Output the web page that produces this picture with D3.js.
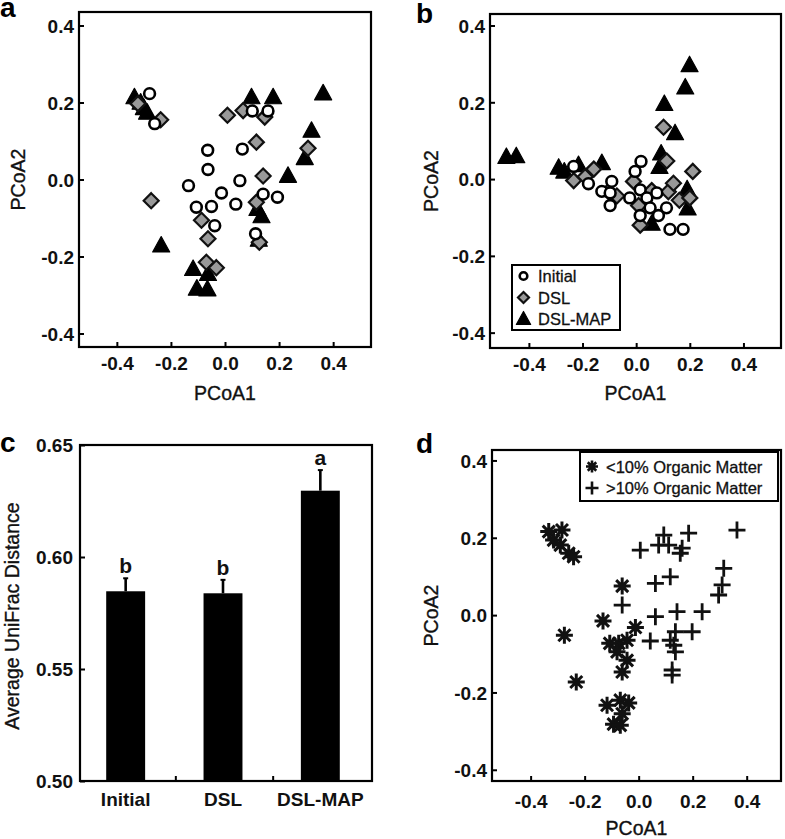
<!DOCTYPE html>
<html><head><meta charset="utf-8">
<script src="https://cdn.jsdelivr.net/npm/d3@7"></script>
<style>body{margin:0;background:#fff;} svg{display:block;font-family:"Liberation Sans",Arial,Helvetica,sans-serif;}</style>
</head><body>
<script>
// ---------- DATA ----------
const pcoaTicks = [-0.4, -0.2, 0.0, 0.2, 0.4];
const pcoaTickLabels = ["-0.4", "-0.2", "0.0", "0.2", "0.4"];

// Panel a
const aInitial = [[-0.279,0.223],[-0.26,0.145],[-0.064,0.076],[-0.063,0.026],[-0.135,-0.016],[-0.013,-0.035],[-0.106,-0.072],[-0.05,-0.07],[-0.038,-0.12],[0.04,-0.064],[0.055,-0.003],[0.064,0.079],[0.101,0.178],[0.159,0.178],[0.141,-0.038],[0.194,-0.046],[0.113,-0.141]];
const aDSL = [[-0.322,0.197],[-0.238,0.155],[0.009,0.167],[0.067,0.179],[0.147,0.162],[0.116,0.097],[0.307,0.081],[0.141,0.009],[-0.273,-0.055],[-0.087,-0.106],[-0.063,-0.154],[-0.069,-0.215],[-0.032,-0.229],[0.116,-0.059],[0.127,-0.163]];
const aDSLMAP = [[-0.335,0.212],[-0.312,0.198],[-0.3,0.184],[-0.288,0.172],[0.098,0.212],[0.178,0.212],[0.363,0.222],[0.32,0.125],[0.295,0.054],[0.233,0.008],[0.12,-0.078],[0.135,-0.097],[0.125,-0.158],[-0.236,-0.173],[-0.118,-0.234],[-0.063,-0.247],[-0.104,-0.285],[-0.065,-0.287]];

// Panel b
const bInitial = [[-0.233,0.033],[-0.178,-0.012],[-0.091,-0.006],[-0.128,-0.032],[-0.097,-0.036],[-0.097,-0.069],[0.018,0.046],[-0.004,0.02],[-0.024,-0.049],[0.015,-0.028],[0.04,-0.049],[0.077,-0.036],[0.052,-0.075],[0.083,-0.095],[0.113,-0.075],[0.015,-0.095],[0.126,-0.131],[0.175,-0.131]];
const bDSL = [[-0.233,-0.004],[-0.19,0.006],[-0.158,0.026],[-0.103,-0.032],[-0.072,-0.044],[-0.01,-0.006],[0.009,-0.069],[0.015,-0.12],[0.058,-0.03],[0.102,0.135],[0.114,0.047],[0.12,-0.033],[0.139,-0.011],[0.161,-0.055],[0.2,-0.049],[0.211,0.02]];
const bDSLMAP = [[-0.484,0.056],[-0.447,0.058],[-0.289,0.028],[-0.268,0.018],[-0.215,0.035],[-0.128,0.04],[0.199,0.295],[0.183,0.237],[0.105,0.194],[0.145,0.118],[0.093,0.065],[0.087,0.03],[0.19,-0.028],[0.192,-0.078],[0.058,-0.118]];
const legendB = ["Initial", "DSL", "DSL-MAP"];

// Panel c
const cCategories = ["Initial", "DSL", "DSL-MAP"];
const cMeans = [0.5847, 0.5838, 0.6296];
const cSE = [0.0058, 0.006, 0.0092];
const cLetters = ["b", "b", "a"];
const cTicks = [0.50, 0.55, 0.60, 0.65];
const cTickLabels = ["0.50", "0.55", "0.60", "0.65"];

// Panel d
const dLow = [[-0.333,0.216],[-0.284,0.22],[-0.315,0.194],[-0.29,0.181],[-0.259,0.16],[-0.241,0.151],[-0.061,0.075],[-0.132,-0.015],[-0.275,-0.052],[-0.012,-0.032],[-0.107,-0.073],[-0.074,-0.073],[-0.043,-0.065],[-0.08,-0.095],[-0.043,-0.117],[-0.061,-0.147],[-0.231,-0.173],[-0.117,-0.233],[-0.068,-0.22],[-0.037,-0.227],[-0.061,-0.255],[-0.093,-0.282],[-0.068,-0.285]];
const dHigh = [[0.006,0.168],[0.093,0.207],[0.185,0.212],[0.364,0.22],[0.074,0.181],[0.111,0.181],[0.161,0.173],[0.154,0.16],[0.315,0.121],[0.309,0.078],[0.296,0.052],[0.117,0.099],[0.062,0.082],[0.142,0.009],[0.235,0.009],[0.062,-0.004],[0.198,-0.043],[0.136,-0.043],[0.043,-0.067],[0.117,-0.065],[0.13,-0.078],[0.136,-0.095],[0.124,-0.142],[0.124,-0.155],[-0.061,0.026]];
const legendD = ["<10% Organic Matter", ">10% Organic Matter"];

// ---------- DRAW ----------
const svg = d3.select("body").append("svg").attr("width", 785).attr("height", 839);
svg.append("rect").attr("width", 785).attr("height", 839).attr("fill", "#fff");

const TICKFONT = 19;

function trianglePath(s){ return `M0,${-s*0.62}L${s*0.55},${s*0.38}L${-s*0.55},${s*0.38}Z`; }
function diamondPath(s){ return `M0,${-s}L${s},0L0,${s}L${-s},0Z`; }
function asteriskPath(r){ const k=r*0.7071; return `M${-r},0L${r},0M0,${-r}L0,${r}M${-k},${-k}L${k},${k}M${-k},${k}L${k},${-k}`; }
function plusPath(r){ return `M${-r},0L${r},0M0,${-r}L0,${r}`; }

function drawCircle(g, x, y, r){ g.append("circle").attr("cx",x).attr("cy",y).attr("r",r).attr("fill","#fff").attr("stroke","#000").attr("stroke-width",2.6); }
function drawDiamond(g, x, y, s){ g.append("path").attr("transform",`translate(${x},${y})`).attr("d",diamondPath(s)).attr("fill","#999").attr("stroke","#111").attr("stroke-width",2.2); }
function drawTriangle(g, x, y, s){ g.append("path").attr("transform",`translate(${x},${y})`).attr("d",trianglePath(s)).attr("fill","#000").attr("stroke","#000").attr("stroke-width",1.2).attr("stroke-linejoin","round"); }
function drawAsterisk(g, x, y, r, w){ g.append("path").attr("transform",`translate(${x},${y})`).attr("d",asteriskPath(r)).attr("fill","none").attr("stroke","#111").attr("stroke-width",w||3); }
function drawPlus(g, x, y, r, w){ g.append("path").attr("transform",`translate(${x},${y})`).attr("d",plusPath(r)).attr("fill","none").attr("stroke","#111").attr("stroke-width",w||2.8); }

function styleAxis(g){
  g.select(".domain").remove();
  g.selectAll(".tick line").attr("stroke","#000").attr("stroke-width",2);
  g.selectAll(".tick text").attr("font-size",TICKFONT).attr("font-weight","bold").attr("fill","#111");
}
function titleText(sel){ return sel.attr("font-size",19.5).attr("fill","#111").attr("stroke","#111").attr("stroke-width",0.35); }

function scatterFrame(o){
  const x = d3.scaleLinear().domain(o.xDomain).range([o.left,o.right]);
  const y = d3.scaleLinear().domain(o.yDomain).range([o.bottom,o.top]);
  const gx = svg.append("g").attr("transform",`translate(0,${o.bottom})`)
    .call(d3.axisBottom(x).tickValues(pcoaTicks).tickFormat((d,i)=>pcoaTickLabels[i]).tickSize(-5).tickPadding(o.xPad));
  styleAxis(gx);
  const gy = svg.append("g").attr("transform",`translate(${o.left},0)`)
    .call(d3.axisLeft(y).tickValues(pcoaTicks).tickFormat((d,i)=>pcoaTickLabels[i]).tickSize(-5).tickPadding(5));
  styleAxis(gy);
  gy.selectAll(".tick text").attr("dy","0.36em");
  titleText(svg.append("text").attr("x",(o.left+o.right)/2).attr("y",o.xTitleY).attr("text-anchor","middle")).text("PCoA1");
  titleText(svg.append("text").attr("transform",`translate(${o.yTitleX},${(o.top+o.bottom)/2}) rotate(-90)`)
    .attr("text-anchor","middle").attr("dominant-baseline","central")).text("PCoA2");
  svg.append("text").attr("x",o.letterX).attr("y",o.letterY).attr("font-size",28).attr("font-weight","bold").attr("fill","#000").text(o.letter);
  const marks = svg.append("g");
  return {x, y, marks, o};
}
function closeFrame(f){
  const o=f.o;
  svg.append("rect").attr("x",o.left).attr("y",o.top).attr("width",o.right-o.left).attr("height",o.bottom-o.top)
    .attr("fill","none").attr("stroke","#000").attr("stroke-width",2.2);
}

// Panel a
const fa = scatterFrame({left:79,right:371,top:12,bottom:347,xDomain:[-0.54,0.54],yDomain:[-0.435,0.435],xPad:10,xTitleY:400,yTitleX:18,letter:"a",letterX:0,letterY:17});
aDSLMAP.forEach(d=>drawTriangle(fa.marks, fa.x(d[0]), fa.y(d[1]), 15.5));
aDSL.forEach(d=>drawDiamond(fa.marks, fa.x(d[0]), fa.y(d[1]), 7.5));
aInitial.forEach(d=>drawCircle(fa.marks, fa.x(d[0]), fa.y(d[1]), 5.4));
closeFrame(fa);

// Panel b
const fb = scatterFrame({left:490,right:781,top:14,bottom:348,xDomain:[-0.545,0.54],yDomain:[-0.44,0.43],xPad:10,xTitleY:400,yTitleX:431,letter:"b",letterX:416,letterY:23});
bDSLMAP.forEach(d=>drawTriangle(fb.marks, fb.x(d[0]), fb.y(d[1]), 15.5));
bDSL.forEach(d=>drawDiamond(fb.marks, fb.x(d[0]), fb.y(d[1]), 7.5));
bInitial.forEach(d=>drawCircle(fb.marks, fb.x(d[0]), fb.y(d[1]), 5.4));
closeFrame(fb);
// legend b
{
  const lg = svg.append("g");
  lg.append("rect").attr("x",512).attr("y",265).attr("width",108).attr("height",65).attr("fill","#fff").attr("stroke","#000").attr("stroke-width",2);
  const ys = [276, 297.5, 318.5];
  legendB.forEach((t,i)=>{
    if(i===0) drawCircle(lg, 523.5, ys[i], 3.8);
    if(i===1) drawDiamond(lg, 523.5, ys[i], 5.5);
    if(i===2) drawTriangle(lg, 523.5, ys[i]+1, 13);
    lg.append("text").attr("x",538).attr("y",ys[i]).attr("dominant-baseline","central").attr("font-size",16.5).attr("fill","#111").attr("stroke","#111").attr("stroke-width",0.3).text(t);
  });
}

// Panel c
{
  const left=80,right=372,top=445,bottom=781;
  const x = d3.scaleBand().domain(cCategories).range([left-3,right-3]).paddingInner(0.6).paddingOuter(0.3);
  const y = d3.scaleLinear().domain([0.50,0.65]).range([bottom,top]);
  const gy = svg.append("g").attr("transform",`translate(${left},0)`)
    .call(d3.axisLeft(y).tickValues(cTicks).tickFormat((d,i)=>cTickLabels[i]).tickSize(-5).tickPadding(7));
  styleAxis(gy);
  gy.selectAll(".tick text").attr("dy","0.36em");
  const gx = svg.append("g").attr("transform",`translate(0,${bottom})`)
    .call(d3.axisBottom(x).tickSize(0).tickPadding(12));
  styleAxis(gx);
  const step = x.step();
  cCategories.slice(1).forEach((c)=>{
    const bx = x(c) - step*x.paddingInner()/2 + 1.5;
    svg.append("line").attr("x1",bx).attr("x2",bx).attr("y1",bottom).attr("y2",bottom-5).attr("stroke","#000").attr("stroke-width",2);
  });
  const bars = svg.append("g");
  cCategories.forEach((c,i)=>{
    const bx = x(c), bw = x.bandwidth();
    bars.append("line").attr("x1",bx+bw/2).attr("x2",bx+bw/2).attr("y1",y(cMeans[i])).attr("y2",y(cMeans[i]+cSE[i])).attr("stroke","#000").attr("stroke-width",2.6);
    bars.append("line").attr("x1",bx+bw/2-2.5).attr("x2",bx+bw/2+2.5).attr("y1",y(cMeans[i]+cSE[i])).attr("y2",y(cMeans[i]+cSE[i])).attr("stroke","#000").attr("stroke-width",2);
    bars.append("rect").attr("x",bx).attr("y",y(cMeans[i])).attr("width",bw).attr("height",y(0.50)-y(cMeans[i])).attr("fill","#000");
    bars.append("text").attr("x",bx+bw/2).attr("y",y(cMeans[i]+cSE[i])-5).attr("text-anchor","middle").attr("font-size",21).attr("font-weight","bold").attr("fill","#111").text(cLetters[i]);
  });
  svg.append("rect").attr("x",left).attr("y",top).attr("width",right-left).attr("height",bottom-top).attr("fill","none").attr("stroke","#000").attr("stroke-width",2.2);
  titleText(svg.append("text").attr("transform",`translate(12,${(top+bottom)/2+3}) rotate(-90)`).attr("text-anchor","middle").attr("dominant-baseline","central")).text("Average UniFrac Distance");
  svg.append("text").attr("x",0).attr("y",452).attr("font-size",28).attr("font-weight","bold").attr("fill","#000").text("c");
}

// Panel d
const fd = scatterFrame({left:492,right:781,top:450,bottom:781,xDomain:[-0.543,0.527],yDomain:[-0.429,0.427],xPad:14,xTitleY:835,yTitleX:431,letter:"d",letterX:416,letterY:453});
dLow.forEach(d=>drawAsterisk(fd.marks, fd.x(d[0]), fd.y(d[1]), 8.5));
dHigh.forEach(d=>drawPlus(fd.marks, fd.x(d[0]), fd.y(d[1]), 8.5));
closeFrame(fd);
{
  const lg = svg.append("g");
  lg.append("rect").attr("x",580).attr("y",452).attr("width",198).attr("height",49).attr("fill","#fff").attr("stroke","#000").attr("stroke-width",2);
  const ys=[466.5, 488];
  legendD.forEach((t,i)=>{
    if(i===0) drawAsterisk(lg, 592, ys[i], 6, 2.6); else drawPlus(lg, 592, ys[i], 6.5, 2.6);
    lg.append("text").attr("x",606).attr("y",ys[i]).attr("dominant-baseline","central").attr("font-size",16.5).attr("fill","#111").attr("stroke","#111").attr("stroke-width",0.3).text(t);
  });
}
</script>
</body></html>
